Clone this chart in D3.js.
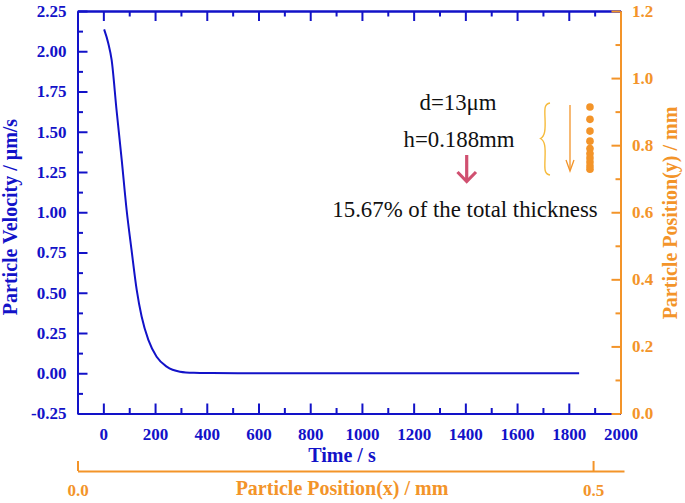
<!DOCTYPE html>
<html>
<head>
<meta charset="utf-8">
<script src="https://cdn.jsdelivr.net/npm/d3@7"></script>
<style>
  html, body { margin: 0; padding: 0; background: #ffffff; }
  svg { display: block; }
</style>
</head>
<body>
<svg id="chart" width="685" height="503"></svg>
<script>
// ---- data ----
const timeValues = [3, 19, 32, 51, 71, 90, 109, 129, 148, 174, 206, 245, 296, 350, 420, 520, 700, 1000, 1400, 1840];
const velocityValues = [2.136, 2.05, 1.946, 1.635, 1.325, 1.014, 0.766, 0.518, 0.352, 0.207, 0.103, 0.041, 0.010, 0.003, 0.001, 0, 0, 0, 0, 0];

const dotPosX = [0.497, 0.497, 0.497, 0.497, 0.497, 0.497, 0.497, 0.497, 0.497, 0.497];
const dotPosY = [0.914, 0.877, 0.842, 0.812, 0.790, 0.775, 0.762, 0.750, 0.738, 0.728];

const velTicks = [-0.25, 0, 0.25, 0.5, 0.75, 1.0, 1.25, 1.5, 1.75, 2.0, 2.25];
const velMinor = [-0.125, 0.125, 0.375, 0.625, 0.875, 1.125, 1.375, 1.625, 1.875, 2.125];
const timeTicks = [0, 200, 400, 600, 800, 1000, 1200, 1400, 1600, 1800, 2000];
const timeMinor = [100, 300, 500, 700, 900, 1100, 1300, 1500, 1700, 1900];
const posYTicks = [0, 0.2, 0.4, 0.6, 0.8, 1.0, 1.2];
const posYMinor = [0.1, 0.3, 0.5, 0.7, 0.9, 1.1];
const posXTicks = [0, 0.5];

const annotations = ["d=13\u03bcm", "h=0.188mm", "15.67% of the total thickness"];

// ---- layout ----
const BLUE = "#1212c8";
const ORANGE = "#f39429";
const FONT = "'Liberation Serif', 'Times New Roman', serif";
const L = 77.5, R = 620.5, T = 11, B = 413.5;

const svg = d3.select("#chart");

const x = d3.scaleLinear().domain([-100, 2000]).range([L, R]);
const y = d3.scaleLinear().domain([-0.25, 2.25]).range([B, T]);
const yPos = d3.scaleLinear().domain([0, 1.2]).range([B, T]);
const xPos = d3.scaleLinear().domain([0, 0.53]).range([L, 624]);

const fmt2 = d => d.toFixed(2);
const fmt1 = d => d.toFixed(1);

function styleAxis(g, color, size) {
  g.attr("font-family", FONT).attr("font-size", size).attr("font-weight", "bold");
  g.selectAll("path, line").attr("stroke", color).attr("stroke-width", 2);
  g.selectAll("text").attr("fill", color).attr("font-family", FONT)
    .attr("font-weight", "bold").attr("font-size", size);
}

// bottom time axis
svg.append("g").attr("transform", `translate(0,${B})`)
  .call(d3.axisBottom(x).tickValues(timeTicks).tickSize(-10).tickSizeOuter(0).tickPadding(14).tickFormat(d => String(d)))
  .call(g => styleAxis(g, BLUE, 17));
svg.append("g").attr("transform", `translate(0,${B})`)
  .call(d3.axisBottom(x).tickValues(timeMinor).tickSize(-5.5).tickSizeOuter(0).tickFormat(""))
  .call(g => styleAxis(g, BLUE, 17));

// top axis (mirror, no labels)
svg.append("g").attr("transform", `translate(0,${T})`)
  .call(d3.axisTop(x).tickValues(timeTicks).tickSize(-10).tickSizeOuter(0).tickFormat(""))
  .call(g => styleAxis(g, BLUE, 17));
svg.append("g").attr("transform", `translate(0,${T})`)
  .call(d3.axisTop(x).tickValues(timeMinor).tickSize(-5.5).tickSizeOuter(0).tickFormat(""))
  .call(g => styleAxis(g, BLUE, 17));

// left velocity axis
svg.append("g").attr("transform", `translate(${L},0)`)
  .call(d3.axisLeft(y).tickValues(velTicks).tickSize(-10).tickSizeOuter(0).tickPadding(11).tickFormat(fmt2))
  .call(g => styleAxis(g, BLUE, 17));
svg.append("g").attr("transform", `translate(${L},0)`)
  .call(d3.axisLeft(y).tickValues(velMinor).tickSize(-5.5).tickSizeOuter(0).tickFormat(""))
  .call(g => styleAxis(g, BLUE, 17));

// right position(y) axis
svg.append("g").attr("transform", `translate(${R},0)`)
  .call(d3.axisRight(yPos).tickValues(posYTicks).tickSize(-9).tickSizeOuter(0).tickPadding(11.5).tickFormat(fmt1))
  .call(g => styleAxis(g, ORANGE, 17));
svg.append("g").attr("transform", `translate(${R},0)`)
  .call(d3.axisRight(yPos).tickValues(posYMinor).tickSize(-5).tickSizeOuter(0).tickFormat(""))
  .call(g => styleAxis(g, ORANGE, 17));

// bottom position(x) axis
svg.append("g").attr("transform", `translate(0,471)`)
  .call(d3.axisBottom(xPos).tickValues(posXTicks).tickSize(-10).tickSizeOuter(0).tickPadding(13).tickFormat(fmt1))
  .call(g => styleAxis(g, ORANGE, 17));

// axis titles
svg.append("text").attr("x", 342).attr("y", 462).attr("text-anchor", "middle")
  .attr("font-family", FONT).attr("font-weight", "bold").attr("font-size", 20).attr("fill", BLUE)
  .text("Time / s");
svg.append("text").attr("x", 342).attr("y", 495).attr("text-anchor", "middle")
  .attr("font-family", FONT).attr("font-weight", "bold").attr("font-size", 20).attr("fill", ORANGE)
  .text("Particle Position(x) / mm");
svg.append("text").attr("transform", "translate(17,217) rotate(-90)").attr("text-anchor", "middle")
  .attr("font-family", FONT).attr("font-weight", "bold").attr("font-size", 20).attr("fill", BLUE)
  .text("Particle Velocity / \u03bcm/s");
svg.append("text").attr("transform", "translate(677,213) rotate(-90)").attr("text-anchor", "middle")
  .attr("font-family", FONT).attr("font-weight", "bold").attr("font-size", 20).attr("fill", ORANGE)
  .text("Particle Position(y) / mm");

// velocity curve
const data = timeValues.map((t, i) => ({ t, v: velocityValues[i] }));
svg.append("path").datum(data)
  .attr("fill", "none").attr("stroke", BLUE).attr("stroke-width", 2)
  .attr("d", d3.line().x(d => x(d.t)).y(d => y(d.v)).curve(d3.curveMonotoneX));

// particle dots
const dots = dotPosX.map((px, i) => ({ px, py: dotPosY[i] }));
svg.selectAll("circle.dot").data(dots).enter().append("circle")
  .attr("class", "dot")
  .attr("cx", d => xPos(d.px)).attr("cy", d => yPos(d.py)).attr("r", 3.8)
  .attr("fill", ORANGE);

// annotations
const ann = svg.append("g").attr("font-family", FONT).attr("font-size", 22.8).attr("fill", "#111");
ann.append("text").attr("x", 458).attr("y", 110).attr("text-anchor", "middle").text(annotations[0]);
ann.append("text").attr("x", 459).attr("y", 147).attr("text-anchor", "middle").text(annotations[1]);
ann.append("text").attr("x", 465).attr("y", 217).attr("text-anchor", "middle").text(annotations[2]);

// red down arrow
svg.append("path").attr("d", "M466.7,155 L466.7,181")
  .attr("stroke", "#d05070").attr("stroke-width", 3.2).attr("fill", "none");
svg.append("path").attr("d", "M457.5,172 L466.7,181.5 L476,172")
  .attr("stroke", "#d05070").attr("stroke-width", 3.2).attr("fill", "none").attr("stroke-linejoin", "miter");

// brace
svg.append("path")
  .attr("d", "M550,103 C544.5,104 544.5,108 545,118 C545.5,130 545,136 540.5,138.5 C545,141 545.5,147 545,159 C544.5,170 544.5,174 550,175")
  .attr("stroke", "#f6bb3c").attr("stroke-width", 1.4).attr("fill", "none");

// thin orange arrow
svg.append("path").attr("d", "M570,105 L570,170")
  .attr("stroke", ORANGE).attr("stroke-width", 1.3).attr("fill", "none");
svg.append("path").attr("d", "M566,160 L570,171 L574,160")
  .attr("stroke", ORANGE).attr("stroke-width", 1.3).attr("fill", "none");
</script>
</body>
</html>
